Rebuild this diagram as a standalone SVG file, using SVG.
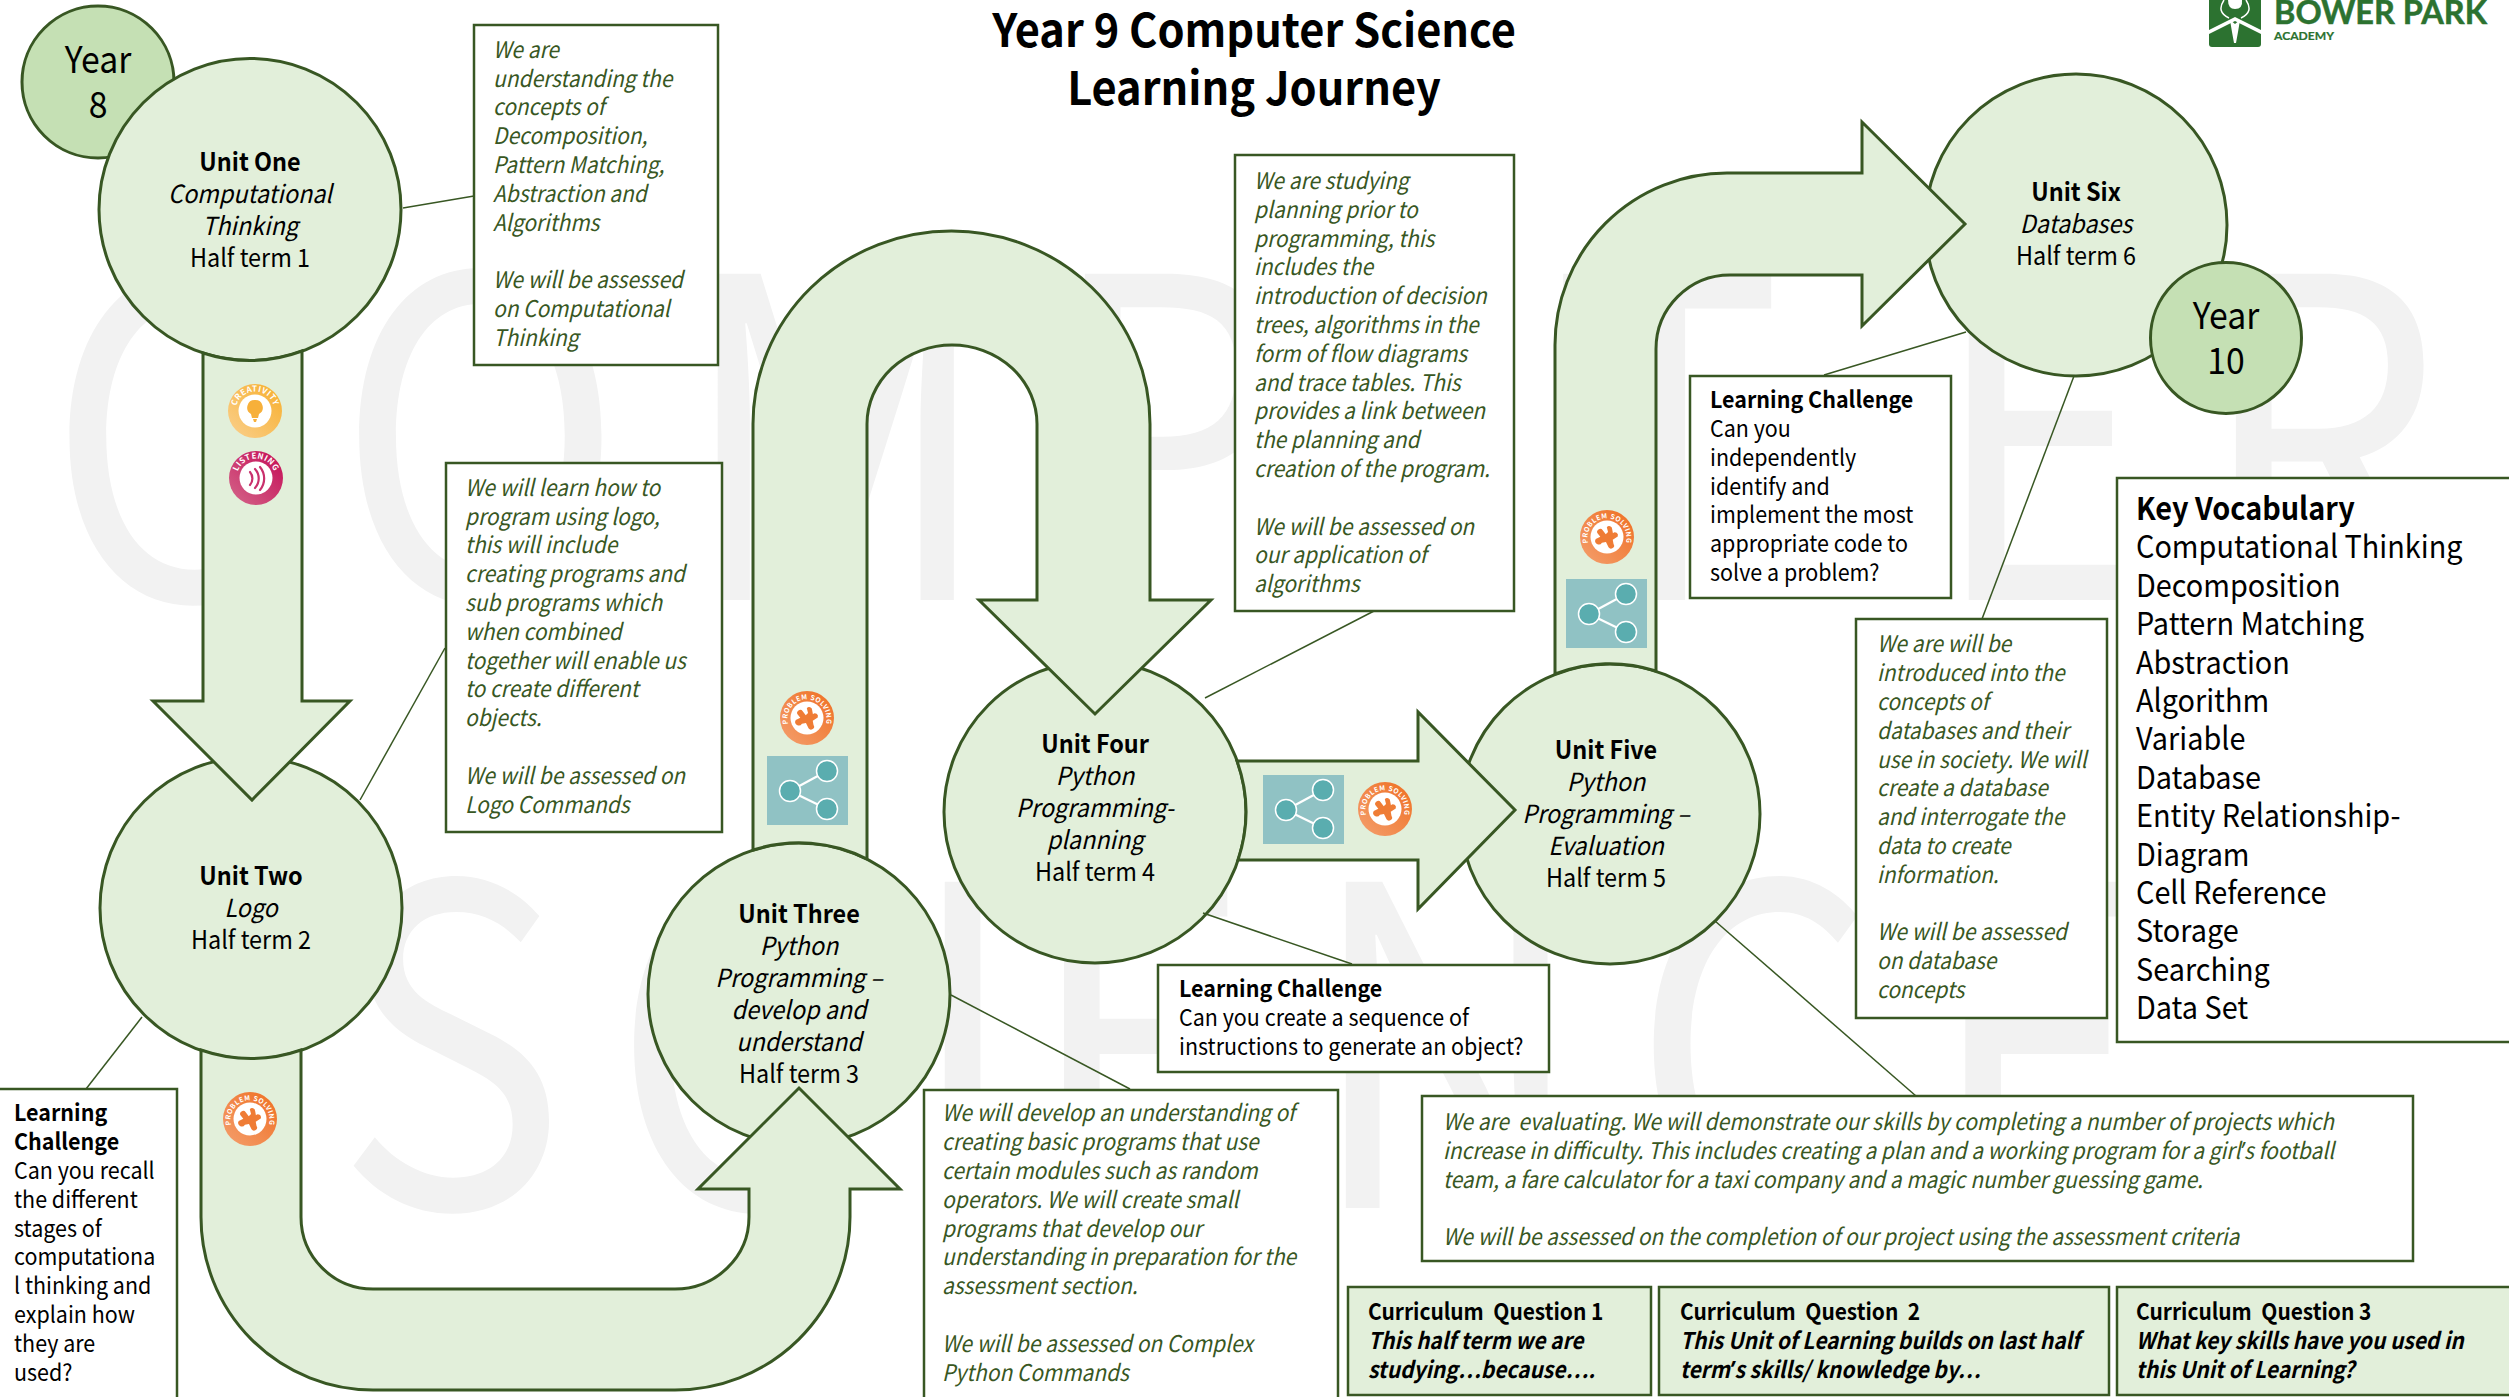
<svg xmlns="http://www.w3.org/2000/svg" width="2509" height="1397" viewBox="0 0 2509 1397">
<style>
text{font-family:"Noto Sans CJK SC","Noto Sans","Liberation Sans",sans-serif;white-space:pre}
.wm{fill:#f2f2f2;font-size:445px;transform:scaleX(.87)}
.unit{fill:#E2EFDA;stroke:#385723;stroke-width:3}
.year{fill:#C5E0B4;stroke:#385723;stroke-width:3}
.arrow{fill:#E2EFDA;stroke:#385723;stroke-width:3;stroke-linejoin:miter}
.lead{fill:none;stroke:#385723;stroke-width:1.5}
.box{fill:#fff;stroke:#385723;stroke-width:2.5}
.cq{fill:#E2EFDA;stroke:#385723;stroke-width:2.5}
.n{font-size:25px;fill:#000;text-anchor:middle;transform:scaleX(.936)}
.b{font-weight:700}
.i{font-style:italic}
.g{font-size:23px;font-style:italic;fill:#385723;transform:scaleX(.91)}
.k{font-size:23px;fill:#000;transform:scaleX(.934)}
.v{font-size:31.5px;fill:#000;transform:scaleX(.915)}
.q{font-size:23px;fill:#000;font-weight:700;transform:scaleX(.91)}
.y{font-size:37px;fill:#000;text-anchor:middle;transform:scaleX(.913)}
.t{font-size:46px;font-weight:700;fill:#000;text-anchor:middle;transform:scaleX(.942)}
.rt{font-size:8px;font-weight:700;fill:#fff;letter-spacing:.6px}
.rp{font-size:6.8px;font-weight:700;fill:#fff;letter-spacing:.5px}
.lg{fill:#2C7230}
.lt{font-family:Lato,sans-serif;font-weight:700;fill:#2C7230;stroke:#2C7230;stroke-width:.5}
.ap{font-family:"Noto Sans",sans-serif}
.shdot{fill:#5AADAF;stroke:#fff;stroke-width:1.5}
</style>
<defs>
<linearGradient id="gc" x1="0" y1="1" x2="1" y2="0"><stop offset="0" stop-color="#FAD08E"/><stop offset="1" stop-color="#F7AE2B"/></linearGradient>
<linearGradient id="gl" x1="0" y1="1" x2="1" y2="0"><stop offset="0" stop-color="#D4668A"/><stop offset="1" stop-color="#C40B55"/></linearGradient>
<linearGradient id="gp" x1="0" y1="1" x2="1" y2="0"><stop offset="0" stop-color="#F49F6E"/><stop offset="1" stop-color="#EF6F22"/></linearGradient>
<path id="ring" d="M-19.5,0A19.5,19.5 0 0 1 19.5,0"/>
<path id="ringw" d="M-18.5,7A19.5,19.5 0 1 1 18.5,7"/>
<g id="puzzle"><path transform="rotate(-25)" d="M-11,-3 L-6,-3 L-7,-7 A3,3 0 0 1 -1,-8 L0,-3 L3,-4 L4,-9 A3,3 0 0 1 8,-5 L7,-1 A3,3 0 0 1 10,4 L4,5 L3,9 A3,3 0 0 1 -3,10 L-3,4 L-7,3 A3,3 0 0 1 -11,-3Z" fill="#EF7C35"/></g>
<g id="share">
<rect width="81" height="69" fill="#90C2C4"/>
<path d="M23,35 L60,15 M23,35 L60,53" stroke="#fff" stroke-width="2.2"/>
<circle cx="23" cy="35" r="10.5" class="shdot"/><circle cx="60" cy="15" r="10.5" class="shdot"/><circle cx="60" cy="53" r="10.5" class="shdot"/>
</g>
</defs>
<rect width="2509" height="1397" fill="#fff"/>
<g id="watermark">
<text class="wm" y="600" x="54 387 780 1202 1460 1783 2218 2525">COMPUTER</text>
<text class="wm" y="1208" x="385 703 1041 1178 1502 1875 2214">SCIENCE</text>
</g>
<g id="title" transform="translate(1254 0)"><text class="t" x="0" y="47">Year 9 Computer Science</text><text class="t" x="0" y="105">Learning Journey</text></g>
<g id="logo">
<path class="lg" d="M2209,0H2261V44Q2261,47 2258,47H2212Q2209,47 2209,44Z"/>
<path d="M2209,34L2235,21L2261,34V30L2235,17L2209,30Z" fill="#fff"/>
<path d="M2230,20L2235,24L2240,20L2238,32L2236,43H2234L2232,32Z" fill="#fff"/>
<path d="M2224,0Q2216,12 2229,18M2246,0Q2254,12 2241,18" fill="none" stroke="#fff" stroke-width="1.5"/>
<path d="M2228,0Q2228,9 2235,9Q2243,9 2242,0Z" fill="#fff"/>
<text class="lt" x="2274" y="24" font-size="33" textLength="213" lengthAdjust="spacingAndGlyphs">BOWER PARK</text>
<text class="lt" x="2274" y="40" font-size="11.5" textLength="60" lengthAdjust="spacingAndGlyphs" style="stroke-width:.2">ACADEMY</text>
</g>
<g id="node-year8"><circle class="year" cx="98" cy="82" r="76"/><g transform="translate(98 0)"><text class="y" x="0" y="73">Year</text><text class="y" x="0" y="118">8</text></g></g>
<g id="node-unit1"><circle class="unit" cx="250" cy="209.5" r="151"/><g transform="translate(250 0)"><text class="n"><tspan class="b" x="0" y="171">Unit One</tspan><tspan class="i" x="0" y="203">Computational</tspan><tspan class="i" x="0" y="235">Thinking</tspan><tspan x="0" y="267">Half term 1</tspan></text></g></g>
<g id="node-unit2"><circle class="unit" cx="251" cy="908" r="151"/><g transform="translate(251 0)"><text class="n"><tspan class="b" x="0" y="885">Unit Two</tspan><tspan class="i" x="0" y="917">Logo</tspan><tspan x="0" y="949">Half term 2</tspan></text></g></g>
<g id="node-unit3"><circle class="unit" cx="799" cy="994" r="151"/><g transform="translate(799 0)"><text class="n"><tspan class="b" x="0" y="923">Unit Three</tspan><tspan class="i" x="0" y="955">Python</tspan><tspan class="i" x="0" y="987">Programming –</tspan><tspan class="i" x="0" y="1019">develop and</tspan><tspan class="i" x="0" y="1051">understand</tspan><tspan x="0" y="1083">Half term 3</tspan></text></g></g>
<g id="node-unit4"><circle class="unit" cx="1095" cy="812" r="151"/><g transform="translate(1095 0)"><text class="n"><tspan class="b" x="0" y="753">Unit Four</tspan><tspan class="i" x="0" y="785">Python</tspan><tspan class="i" x="0" y="817">Programming-</tspan><tspan class="i" x="0" y="849">planning</tspan><tspan x="0" y="881">Half term 4</tspan></text></g></g>
<g id="node-unit5"><circle class="unit" cx="1610" cy="814" r="150"/><g transform="translate(1606 0)"><text class="n"><tspan class="b" x="0" y="759">Unit Five</tspan><tspan class="i" x="0" y="791">Python</tspan><tspan class="i" x="0" y="823">Programming –</tspan><tspan class="i" x="0" y="855">Evaluation</tspan><tspan x="0" y="887">Half term 5</tspan></text></g></g>
<g id="node-unit6"><circle class="unit" cx="2076" cy="225" r="151"/><g transform="translate(2076 0)"><text class="n"><tspan class="b" x="0" y="201">Unit Six</tspan><tspan class="i" x="0" y="233">Databases</tspan><tspan x="0" y="265">Half term 6</tspan></text></g></g>
<g id="node-year10"><circle class="year" cx="2226" cy="338" r="75.5"/><g transform="translate(2226 0)"><text class="y" x="0" y="329">Year</text><text class="y" x="0" y="374">10</text></g></g>
<g id="connectors">
<path class="arrow" d="M203,353L203,701L153,701L252,800L350,701L302,701L302,351A151,151 0 0 1 203,353Z"/>
<path class="arrow" d="M201,1050L201,1217A172,173 0 0 0 373,1390L675,1390A175,173 0 0 0 850,1217L850,1189L900,1189L799,1088L698,1189L749,1189L749,1217A74,72 0 0 1 675,1289L373,1289A72,72 0 0 1 301,1217L301,1050A151,151 0 0 1 201,1050Z"/>
<path class="arrow" d="M753,850L753,424A198.5,193 0 0 1 1150,424L1150,600L1211,600L1095,714L979,600L1037,600L1037,424A85,79 0 0 0 867,424L867,859A151,151 0 0 0 753,850Z"/>
<path class="arrow" d="M1237,761L1418,761L1418,712L1515,810L1418,909L1418,860L1238,860A151,151 0 0 0 1237,761Z"/>
<path class="arrow" d="M1555,674L1555,345A172,172 0 0 1 1727,173L1862,173L1862,122L1965,224L1862,326L1862,275L1730,275A74,74 0 0 0 1656,349L1656,671A150,150 0 0 0 1555,674Z"/>
<path class="lead" d="M403,208L474,196"/>
<path class="lead" d="M360,800L445,648"/>
<path class="lead" d="M142,1017L86,1089"/>
<path class="lead" d="M951,995L1130,1089"/>
<path class="lead" d="M1205,698L1374,611"/>
<path class="lead" d="M1203,913L1352,964"/>
<path class="lead" d="M1715,921L1916,1096"/>
<path class="lead" d="M1824,375L1966,332"/>
<path class="lead" d="M1982,619L2074,376"/>
</g>
<g id="badges">
<g transform="translate(255,411)"><circle r="27" fill="url(#gc)"/><circle r="16.5" fill="#fff"/><path d="M0,-11A7.5,7.5 0 0 1 4,3L3,7H-3L-4,3A7.5,7.5 0 0 1 0,-11ZM-2,8H2L1,11H-1Z" fill="#F7B03A"/><text class="rt"><textPath href="#ring" startOffset="50%" text-anchor="middle">CREATIVITY</textPath></text></g>
<g transform="translate(256,478)"><circle r="27" fill="url(#gl)"/><circle r="16.5" fill="#fff"/><path d="M-6,-6A10,10 0 0 1 -6,7M-1,-9A14,14 0 0 1 -1,10M4,-11A18,18 0 0 1 4,12" fill="none" stroke="#C9306C" stroke-width="2.2" stroke-linecap="round"/><text class="rt"><textPath href="#ring" startOffset="50%" text-anchor="middle">LISTENING</textPath></text></g>
<g transform="translate(250,1119)"><circle r="27" fill="url(#gp)"/><circle r="16.5" fill="#fff"/><use href="#puzzle"/><text class="rp"><textPath href="#ringw" startOffset="50%" text-anchor="middle">PROBLEM SOLVING</textPath></text></g>
<g transform="translate(807,718)"><circle r="27" fill="url(#gp)"/><circle r="16.5" fill="#fff"/><use href="#puzzle"/><text class="rp"><textPath href="#ringw" startOffset="50%" text-anchor="middle">PROBLEM SOLVING</textPath></text></g>
<g transform="translate(1385,809)"><circle r="27" fill="url(#gp)"/><circle r="16.5" fill="#fff"/><use href="#puzzle"/><text class="rp"><textPath href="#ringw" startOffset="50%" text-anchor="middle">PROBLEM SOLVING</textPath></text></g>
<g transform="translate(1607,537)"><circle r="27" fill="url(#gp)"/><circle r="16.5" fill="#fff"/><use href="#puzzle"/><text class="rp"><textPath href="#ringw" startOffset="50%" text-anchor="middle">PROBLEM SOLVING</textPath></text></g>
<use href="#share" x="767" y="756"/><use href="#share" x="1263" y="775"/><use href="#share" x="1566" y="579"/>
</g>
<g id="note-unit1"><rect class="box" x="474" y="25" width="244" height="340"/><g transform="translate(493 0)"><text class="g"><tspan x="0" y="58">We are</tspan><tspan x="0" y="87">understanding the</tspan><tspan x="0" y="115">concepts of</tspan><tspan x="0" y="144">Decomposition,</tspan><tspan x="0" y="173">Pattern Matching,</tspan><tspan x="0" y="202">Abstraction and</tspan><tspan x="0" y="231">Algorithms</tspan><tspan x="0" y="288">We will be assessed</tspan><tspan x="0" y="317">on Computational</tspan><tspan x="0" y="346">Thinking</tspan></text></g></g>
<g id="note-unit2"><rect class="box" x="446" y="463" width="276" height="369"/><g transform="translate(465 0)"><text class="g"><tspan x="0" y="496">We will learn how to</tspan><tspan x="0" y="525">program using logo,</tspan><tspan x="0" y="553">this will include</tspan><tspan x="0" y="582">creating programs and</tspan><tspan x="0" y="611">sub programs which</tspan><tspan x="0" y="640">when combined</tspan><tspan x="0" y="669">together will enable us</tspan><tspan x="0" y="697">to create different</tspan><tspan x="0" y="726">objects.</tspan><tspan x="0" y="784">We will be assessed on</tspan><tspan x="0" y="813">Logo Commands</tspan></text></g></g>
<g id="note-lc1"><rect class="box" x="-3" y="1089" width="180" height="320"/><g transform="translate(14 0)"><text class="k"><tspan class="b" x="0" y="1121">Learning</tspan><tspan class="b" x="0" y="1150">Challenge</tspan><tspan x="0" y="1179">Can you recall</tspan><tspan x="0" y="1208">the different</tspan><tspan x="0" y="1237">stages of</tspan><tspan x="0" y="1265">computationa</tspan><tspan x="0" y="1294">l thinking and</tspan><tspan x="0" y="1323">explain how</tspan><tspan x="0" y="1352">they are</tspan><tspan x="0" y="1381">used?</tspan></text></g></g>
<g id="note-unit3"><rect class="box" x="924" y="1090" width="414" height="320"/><g transform="translate(942 0)"><text class="g"><tspan x="0" y="1121">We will develop an understanding of</tspan><tspan x="0" y="1150">creating basic programs that use</tspan><tspan x="0" y="1179">certain modules such as random</tspan><tspan x="0" y="1208">operators. We will create small</tspan><tspan x="0" y="1237">programs that develop our</tspan><tspan x="0" y="1265">understanding in preparation for the</tspan><tspan x="0" y="1294">assessment section.</tspan><tspan x="0" y="1352">We will be assessed on Complex</tspan><tspan x="0" y="1381">Python Commands</tspan></text></g></g>
<g id="note-unit4"><rect class="box" x="1235" y="155" width="279" height="456"/><g transform="translate(1254 0)"><text class="g"><tspan x="0" y="189">We are studying</tspan><tspan x="0" y="218">planning prior to</tspan><tspan x="0" y="247">programming, this</tspan><tspan x="0" y="275">includes the</tspan><tspan x="0" y="304">introduction of decision</tspan><tspan x="0" y="333">trees, algorithms in the</tspan><tspan x="0" y="362">form of flow diagrams</tspan><tspan x="0" y="391">and trace tables. This</tspan><tspan x="0" y="419">provides a link between</tspan><tspan x="0" y="448">the planning and</tspan><tspan x="0" y="477">creation of the program.</tspan><tspan x="0" y="535">We will be assessed on</tspan><tspan x="0" y="563">our application of</tspan><tspan x="0" y="592">algorithms</tspan></text></g></g>
<g id="note-lc4"><rect class="box" x="1158" y="965" width="391" height="107"/><g transform="translate(1179 0)"><text class="k"><tspan class="b" x="0" y="997">Learning Challenge</tspan><tspan x="0" y="1026">Can you create a sequence of</tspan><tspan x="0" y="1055">instructions to generate an object?</tspan></text></g></g>
<g id="note-unit5"><rect class="box" x="1422" y="1096" width="991" height="165"/><g transform="translate(1443 0)"><text class="g"><tspan x="0" y="1130">We are  evaluating. We will demonstrate our skills by completing a number of projects which</tspan><tspan x="0" y="1159">increase in difficulty. This includes creating a plan and a working program for a girl<tspan class="ap">’</tspan>s football</tspan><tspan x="0" y="1188">team, a fare calculator for a taxi company and a magic number guessing game.</tspan><tspan x="0" y="1245">We will be assessed on the completion of our project using the assessment criteria</tspan></text></g></g>
<g id="note-lc6"><rect class="box" x="1690" y="376" width="261" height="222"/><g transform="translate(1710 0)"><text class="k"><tspan class="b" x="0" y="408">Learning Challenge</tspan><tspan x="0" y="437">Can you</tspan><tspan x="0" y="466">independently</tspan><tspan x="0" y="495">identify and</tspan><tspan x="0" y="523">implement the most</tspan><tspan x="0" y="552">appropriate code to</tspan><tspan x="0" y="581">solve a problem?</tspan></text></g></g>
<g id="note-unit6"><rect class="box" x="1856" y="619" width="251" height="399"/><g transform="translate(1877 0)"><text class="g"><tspan x="0" y="652">We are will be</tspan><tspan x="0" y="681">introduced into the</tspan><tspan x="0" y="710">concepts of</tspan><tspan x="0" y="739">databases and their</tspan><tspan x="0" y="768">use in society. We will</tspan><tspan x="0" y="796">create a database</tspan><tspan x="0" y="825">and interrogate the</tspan><tspan x="0" y="854">data to create</tspan><tspan x="0" y="883">information.</tspan><tspan x="0" y="940">We will be assessed</tspan><tspan x="0" y="969">on database</tspan><tspan x="0" y="998">concepts</tspan></text></g></g>
<g id="vocabulary"><rect class="box" x="2117" y="478" width="400" height="564"/><g transform="translate(2136 0)"><text class="v"><tspan class="b" x="0" y="520">Key Vocabulary</tspan><tspan x="0" y="558">Computational Thinking</tspan><tspan x="0" y="597">Decomposition</tspan><tspan x="0" y="635">Pattern Matching</tspan><tspan x="0" y="674">Abstraction</tspan><tspan x="0" y="712">Algorithm</tspan><tspan x="0" y="750">Variable</tspan><tspan x="0" y="789">Database</tspan><tspan x="0" y="827">Entity Relationship-</tspan><tspan x="0" y="866">Diagram</tspan><tspan x="0" y="904">Cell Reference</tspan><tspan x="0" y="942">Storage</tspan><tspan x="0" y="981">Searching</tspan><tspan x="0" y="1019">Data Set</tspan></text></g></g>
<g id="cq1"><rect class="cq" x="1348" y="1287" width="303" height="108"/><g transform="translate(1368 0)"><text class="q"><tspan x="0" y="1320">Curriculum  Question 1</tspan><tspan class="i" x="0" y="1349">This half term we are</tspan><tspan class="i" x="0" y="1378">studying…because….</tspan></text></g></g>
<g id="cq2"><rect class="cq" x="1659" y="1287" width="450" height="108"/><g transform="translate(1680 0)"><text class="q"><tspan x="0" y="1320">Curriculum  Question  2</tspan><tspan class="i" x="0" y="1349">This Unit of Learning builds on last half</tspan><tspan class="i" x="0" y="1378">term<tspan class="ap">’</tspan>s skills/ knowledge by…</tspan></text></g></g>
<g id="cq3"><rect class="cq" x="2117" y="1287" width="400" height="108"/><g transform="translate(2136 0)"><text class="q"><tspan x="0" y="1320">Curriculum  Question 3</tspan><tspan class="i" x="0" y="1349">What key skills have you used in</tspan><tspan class="i" x="0" y="1378">this Unit of Learning?</tspan></text></g></g>
</svg>
